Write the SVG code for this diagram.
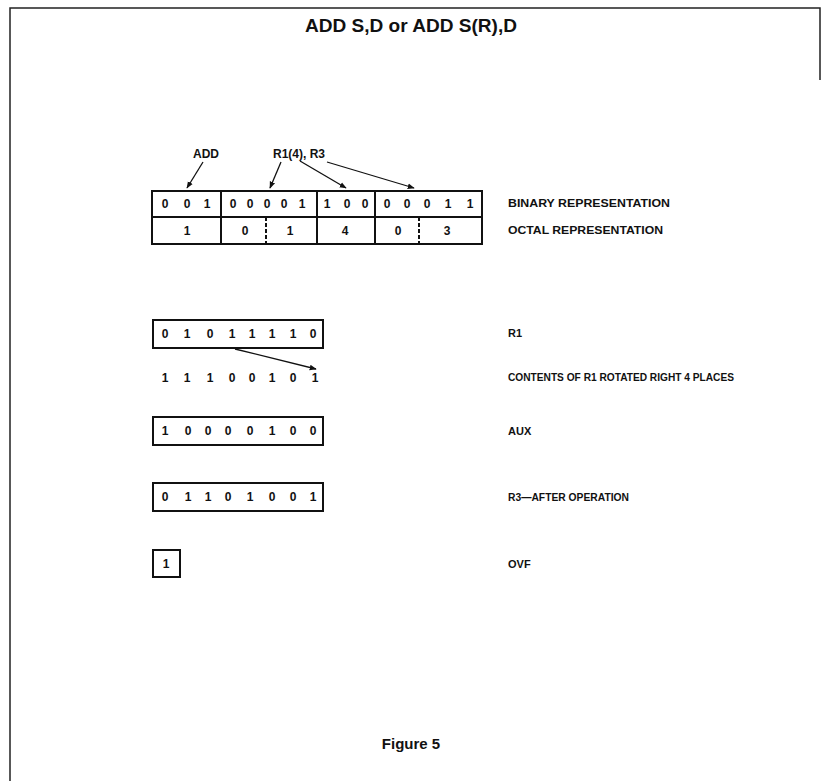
<svg xmlns="http://www.w3.org/2000/svg" width="822" height="781" viewBox="0 0 822 781">
<defs>
<marker id="ah" viewBox="0 0 10 10" refX="9" refY="5" markerWidth="7" markerHeight="7" orient="auto" markerUnits="userSpaceOnUse">
<path d="M0,1 L10,5 L0,9 z" fill="#111"/>
</marker>
<style>
.t{font-family:"Liberation Sans",Arial,sans-serif;font-weight:bold;fill:#111}
.title{font-size:18px}
.lbl{font-size:11px}
.d{font-size:12px;text-anchor:middle}
.box{fill:none;stroke:#111;stroke-width:2}
.ln{stroke:#111;stroke-width:1.3;fill:none}
.dash{stroke:#111;stroke-width:2;stroke-dasharray:4,2}
</style>
</defs>
<rect width="822" height="781" fill="#fff"/>
<g id="frame">
<path d="M10,781 L10,8 L820,8 L820,80" fill="none" stroke="#222" stroke-width="1.5"/>
</g>
<text class="t title" x="305" y="32" textLength="212" lengthAdjust="spacingAndGlyphs">ADD S,D or ADD S(R),D</text>

<g id="instruction">
<rect class="box" x="152" y="191" width="330" height="53"/>
<line x1="152" y1="217" x2="482" y2="217" stroke="#111" stroke-width="2"/>
<line x1="221" y1="191" x2="221" y2="244" stroke="#111" stroke-width="2"/>
<line x1="317" y1="191" x2="317" y2="244" stroke="#111" stroke-width="2"/>
<line x1="375" y1="191" x2="375" y2="244" stroke="#111" stroke-width="2"/>
<line class="dash" x1="266" y1="217" x2="266" y2="244"/>
<line class="dash" x1="419" y1="217" x2="419" y2="244"/>
<g class="t d">
<text x="165" y="208">0</text><text x="187" y="208">0</text><text x="207" y="208">1</text>
<text x="233" y="208">0</text><text x="250" y="208">0</text><text x="267" y="208">0</text><text x="284" y="208">0</text><text x="302" y="208">1</text>
<text x="327" y="208">1</text><text x="347" y="208">0</text><text x="365" y="208">0</text>
<text x="387" y="208">0</text><text x="407" y="208">0</text><text x="427" y="208">0</text><text x="448" y="208">1</text><text x="470" y="208">1</text>
<text x="187" y="235">1</text><text x="245" y="235">0</text><text x="290" y="235">1</text>
<text x="345" y="235">4</text><text x="398" y="235">0</text><text x="447" y="235">3</text>
</g>
<text class="t lbl" x="508" y="207" textLength="162" lengthAdjust="spacingAndGlyphs">BINARY REPRESENTATION</text>
<text class="t lbl" x="508" y="234" textLength="155" lengthAdjust="spacingAndGlyphs">OCTAL REPRESENTATION</text>
<text class="t" font-size="12" x="206" y="158" text-anchor="middle">ADD</text>
<text class="t" font-size="12" x="299" y="158" text-anchor="middle">R1(4), R3</text>
</g>

<g id="r1">
<rect class="box" x="153" y="320" width="170" height="28"/>
<g class="t d">
<text x="165" y="338">0</text><text x="187" y="338">1</text><text x="210" y="338">0</text><text x="232" y="338">1</text><text x="252" y="338">1</text><text x="272" y="338">1</text><text x="293" y="338">1</text><text x="313" y="338">0</text>
</g>
<text class="t lbl" x="508" y="337">R1</text>
</g>

<g id="rotated">
<g class="t d">
<text x="165" y="382">1</text><text x="187" y="382">1</text><text x="210" y="382">1</text><text x="232" y="382">0</text><text x="252" y="382">0</text><text x="272" y="382">1</text><text x="293" y="382">0</text><text x="315" y="382">1</text>
</g>
<text class="t lbl" x="508" y="381" textLength="226" lengthAdjust="spacingAndGlyphs">CONTENTS OF R1 ROTATED RIGHT 4 PLACES</text>
</g>

<g id="aux">
<rect class="box" x="153" y="417" width="170" height="28"/>
<g class="t d">
<text x="165" y="435">1</text><text x="188" y="435">0</text><text x="208" y="435">0</text><text x="228" y="435">0</text><text x="250" y="435">0</text><text x="272" y="435">1</text><text x="293" y="435">0</text><text x="313" y="435">0</text>
</g>
<text class="t lbl" x="508" y="435">AUX</text>
</g>

<g id="r3">
<rect class="box" x="153" y="483" width="170" height="28"/>
<g class="t d">
<text x="165" y="501">0</text><text x="188" y="501">1</text><text x="208" y="501">1</text><text x="228" y="501">0</text><text x="250" y="501">1</text><text x="272" y="501">0</text><text x="293" y="501">0</text><text x="313" y="501">1</text>
</g>
<text class="t lbl" x="508" y="501" textLength="121" lengthAdjust="spacingAndGlyphs">R3—AFTER OPERATION</text>
</g>

<g id="ovf">
<rect class="box" x="153" y="550" width="27" height="27"/>
<text class="t d" x="166" y="568">1</text>
<text class="t lbl" x="508" y="568">OVF</text>
</g>

<g id="connectors">
<line class="ln" x1="203" y1="162" x2="187" y2="188" marker-end="url(#ah)"/>
<line class="ln" x1="281" y1="162" x2="270" y2="188" marker-end="url(#ah)"/>
<line class="ln" x1="300" y1="161" x2="346" y2="188" marker-end="url(#ah)"/>
<line class="ln" x1="327" y1="162" x2="414" y2="188" marker-end="url(#ah)"/>
<line class="ln" x1="235" y1="349" x2="316" y2="369" marker-end="url(#ah)"/>
</g>

<text class="t" x="411" y="749" font-size="15" text-anchor="middle">Figure 5</text>
</svg>
